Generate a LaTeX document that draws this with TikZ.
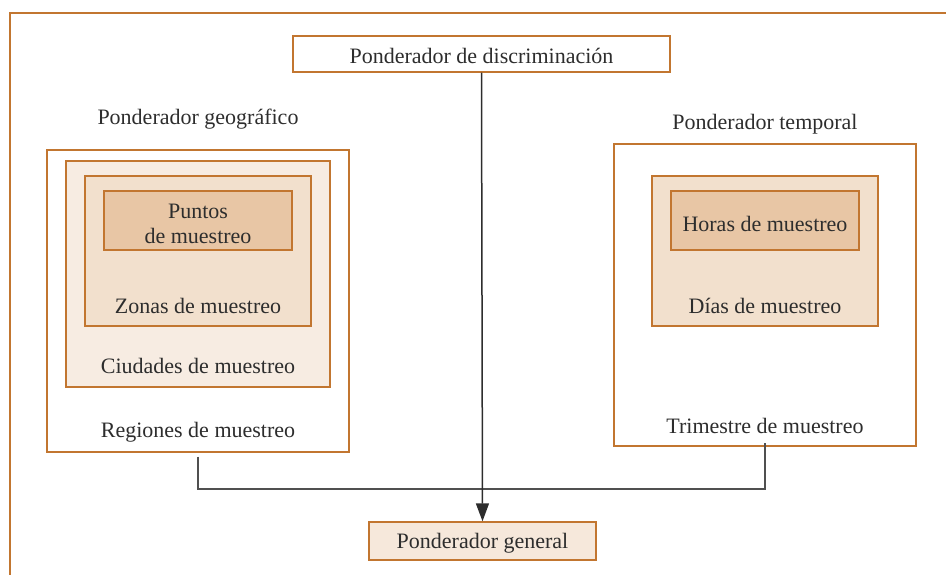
\documentclass[tikz,border=0pt]{standalone}
\usepackage{fontspec}
\setmainfont{Liberation Serif}
\usepackage{tikz}
\usetikzlibrary{positioning,arrows.meta}
\definecolor{borde}{RGB}{194,118,48}
\definecolor{texto}{RGB}{45,45,45}
\definecolor{linea}{RGB}{80,80,80}
\definecolor{nivela}{RGB}{247,236,226}
\definecolor{nivelb}{RGB}{242,224,205}
\definecolor{nivelc}{RGB}{232,198,165}
\definecolor{general}{RGB}{246,232,219}

\tikzset{
  caja/.style={draw=borde, line width=1.4pt, rectangle, inner sep=0pt},
  etiqueta/.style={text=texto, font=\fontsize{22}{25}\selectfont, align=center, inner sep=0pt, yshift=-2pt}
}

\begin{document}
\begin{tikzpicture}[x=1pt, y=-1pt, >=Stealth]
    \useasboundingbox (0,0) rectangle (946,575);

    % Marco exterior
    \draw[borde, line width=1.4pt] (946,13) -- (10,13) -- (10,575);

    % Ponderador de discriminación
    \node[caja, fill=white, minimum width=377pt, minimum height=36pt] (discr) at (481.5,54) {};
    \node[etiqueta] (discrtxt) at (discr.center) {Ponderador de discriminación};

    % Ponderador geográfico
    \node[etiqueta] (geotxt) at (198,117) {Ponderador geográfico};
    \node[caja, fill=white, minimum width=302pt, minimum height=302pt] (regiones) at (198,301) {};
    \node[caja, fill=nivela, minimum width=264pt, minimum height=226pt] (ciudades) at (198,274) {};
    \node[caja, fill=nivelb, minimum width=226pt, minimum height=150pt] (zonas) at (198,251) {};
    \node[caja, fill=nivelc, minimum width=188pt, minimum height=59pt] (puntos) at (198,220.5) {};
    \node[etiqueta] (puntostxt) at (198,222) {Puntos\\de muestreo};
    \node[etiqueta] (zonastxt) at (198,304) {Zonas de muestreo};
    \node[etiqueta] (ciudadestxt) at (198,364) {Ciudades de muestreo};
    \node[etiqueta] (regionestxt) at (198,430) {Regiones de muestreo};

    % Ponderador temporal
    \node[etiqueta] (temptxt) at (765,122) {Ponderador temporal};
    \node[caja, fill=white, minimum width=302pt, minimum height=302pt] (trimestre) at (765,295) {};
    \node[caja, fill=nivelb, minimum width=226pt, minimum height=150pt] (dias) at (765,251) {};
    \node[caja, fill=nivelc, minimum width=188pt, minimum height=59pt] (horas) at (765,220.5) {};
    \node[etiqueta] (horastxt) at (765,222) {Horas de muestreo};
    \node[etiqueta] (diastxt) at (765,304) {Días de muestreo};
    \node[etiqueta] (trimestretxt) at (765,424) {Trimestre de muestreo};

    % Ponderador general
    \node[caja, fill=general, minimum width=227pt, minimum height=38pt] (general) at (482.5,541) {};
    \node[etiqueta] (generaltxt) at (general.center) {Ponderador general};

    % Conexiones
    \coordinate (union) at (0,489);
    \draw[linea, line width=1.5pt, shorten <=4pt] (regiones.south) -- (regiones.south |- union) -- (trimestre.south |- union) -- ([yshift=4pt]trimestre.south);
    \draw[texto, line width=1.5pt, -{Triangle[length=18pt,width=13pt]}] (discr.south) -- (general.north);

\end{tikzpicture}
\end{document}
